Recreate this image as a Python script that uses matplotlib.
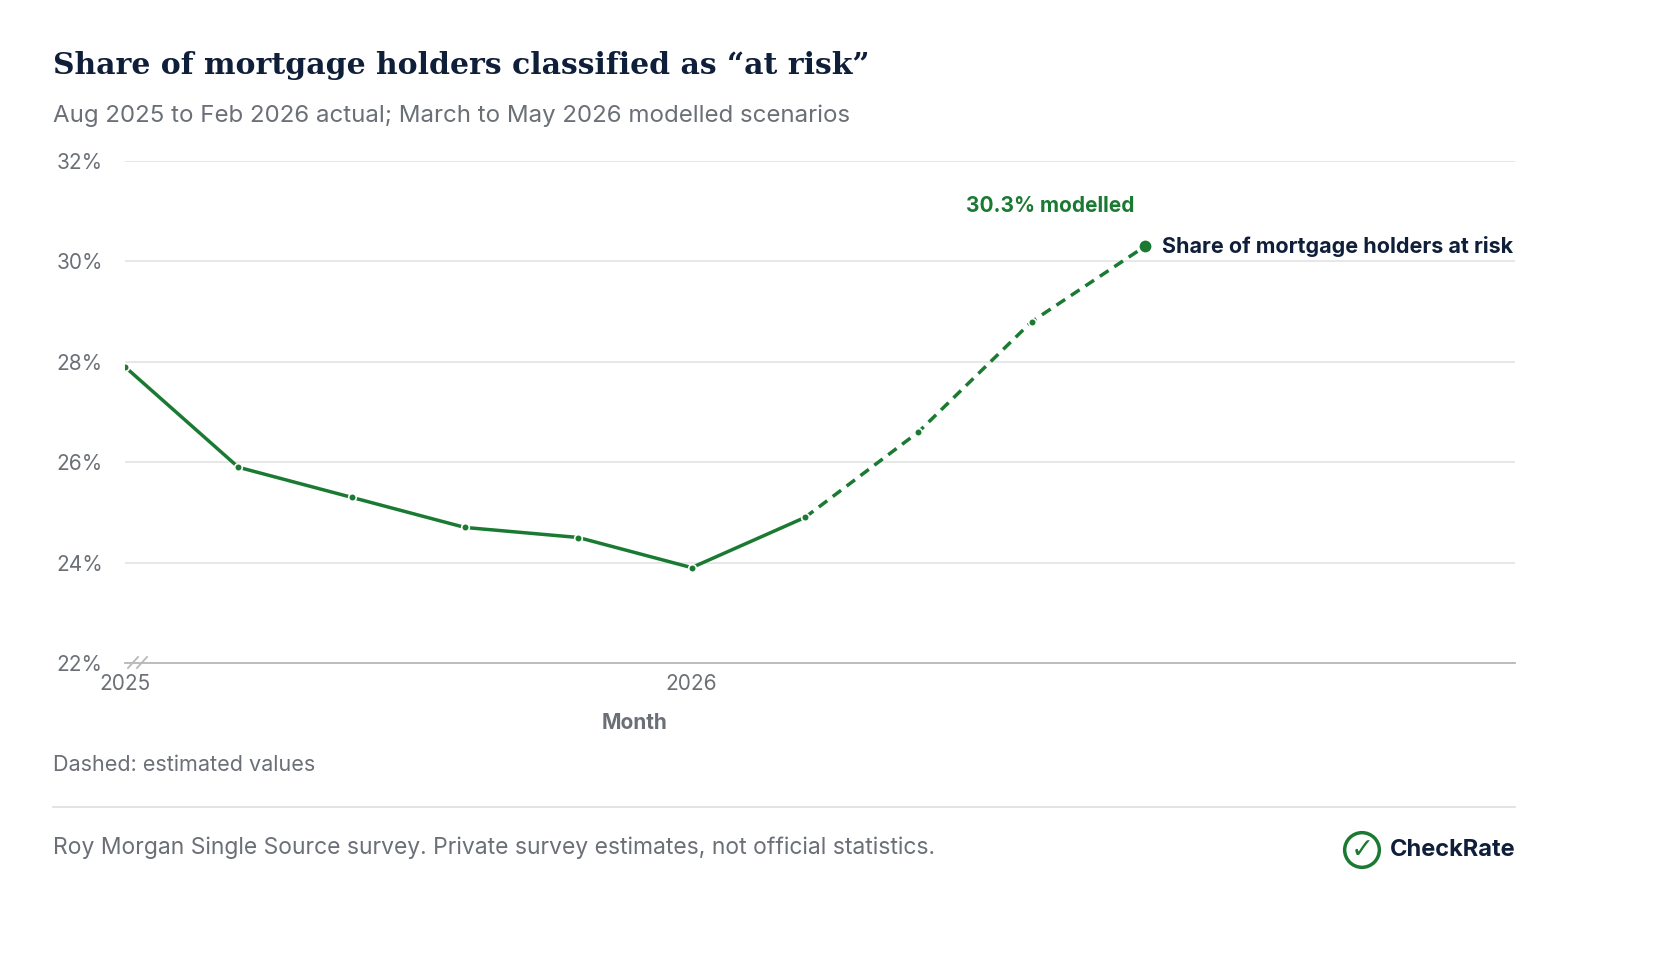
import matplotlib
matplotlib.use('Agg')
import matplotlib.pyplot as plt
from matplotlib.lines import Line2D

# Data: monthly share at risk (%), index 0 = first month shown
months = [0, 1, 2, 3, 4, 5, 6, 7, 8, 9]
share = [27.9, 25.9, 25.3, 24.7, 24.5, 23.9, 24.9, 26.6, 28.8, 30.3]
last_actual = 6
tick_pos = [0, 5]
tick_labels = ['2025', '2026']
y_ticks = [22, 24, 26, 28, 30, 32]

GREEN = '#1a7a32'
NAVY = '#0f1f3a'
GREY = '#6b6f76'

plt.rcParams['font.family'] = ['Inter', 'DejaVu Sans']

fig = plt.figure(figsize=(16.6, 9.59), dpi=100)
ax = fig.add_axes([125 / 1660, 1 - 663 / 959, (1515 - 125) / 1660, (663 - 161) / 959])

ax.plot(months[:last_actual + 1], share[:last_actual + 1], color=GREEN, lw=2.5,
        marker='o', ms=5.5, markeredgecolor='white', markeredgewidth=1.2, zorder=3)
ax.plot(months[last_actual:], share[last_actual:], color=GREEN, lw=2.5, ls=(0, (3, 2)),
        marker='o', ms=5.5, markeredgecolor='white', markeredgewidth=1.2, zorder=3)
ax.plot(months[-1], share[-1], 'o', color=GREEN, ms=10, markeredgecolor='white',
        markeredgewidth=1.5, zorder=4)

ax.annotate(f'{share[-1]:.1f}% modelled', (months[-1], share[-1]), xytext=(-8, 22),
            textcoords='offset points', ha='right', va='bottom', color=GREEN,
            fontsize=15, fontweight='bold')
ax.annotate('Share of mortgage holders at risk', (months[-1], share[-1]), xytext=(12, 0),
            textcoords='offset points', ha='left', va='center', color=NAVY,
            fontsize=15.5, fontweight='bold')

ax.set_xlim(0, 9 * (1515 - 125) / (1145 - 125))
ax.set_ylim(22, 32)
ax.set_yticks(y_ticks)
ax.set_yticklabels([f'{v}%' for v in y_ticks])
ax.set_xticks(tick_pos)
ax.set_xticklabels(tick_labels)
ax.tick_params(length=0, labelsize=15, colors=GREY, pad=8)
ax.tick_params(axis='y', pad=16)
ax.grid(axis='y', color='#e3e3e3', lw=1.2)
for s in ['top', 'right', 'left']:
    ax.spines[s].set_visible(False)
ax.spines['bottom'].set_color('#b8b8b8')
ax.spines['bottom'].set_linewidth(1.3)
ax.set_xlabel('Month', fontsize=15, color=GREY, fontweight='bold')
ax.xaxis.set_label_coords((634 - 125) / 1390, -0.1)
ax.set_axisbelow(True)

# axis break mark
for dx in (0, 9):
    fig.add_artist(Line2D([(128 + dx) / 1660, (138 + dx) / 1660],
                          [1 - 668 / 959, 1 - 657 / 959], color='#b8b8b8', lw=1.3))

fig.text(53 / 1660, 1 - 66 / 959, 'Share of mortgage holders classified as \u201cat risk\u201d',
         fontsize=21.5, fontweight='bold', family='DejaVu Serif', color=NAVY, va='center')
fig.text(53 / 1660, 1 - 116 / 959,
         'Aug 2025 to Feb 2026 actual; March to May 2026 modelled scenarios',
         fontsize=17.3, color=GREY, va='center')
fig.text(53 / 1660, 1 - 765 / 959, 'Dashed: estimated values', fontsize=15.5,
         color=GREY, va='center')
fig.add_artist(Line2D([53 / 1660, 1515 / 1660], [1 - 807 / 959] * 2, color='#dedede', lw=1.2))
fig.text(53 / 1660, 1 - 848 / 959,
         'Roy Morgan Single Source survey. Private survey estimates, not official statistics.',
         fontsize=16.5, color=GREY, va='center')
fig.text(1515 / 1660, 1 - 850 / 959, 'CheckRate', fontsize=17, fontweight='bold',
         color=NAVY, ha='right', va='center')
fig.text(1362 / 1660, 1 - 850 / 959, '\u2713', fontsize=20, color=GREEN, ha='center',
         va='center', family='DejaVu Sans', fontweight='bold',
         bbox=dict(boxstyle='circle,pad=0.12', fc='white', ec=GREEN, lw=2.5))

fig.savefig('out.png', dpi=100)
